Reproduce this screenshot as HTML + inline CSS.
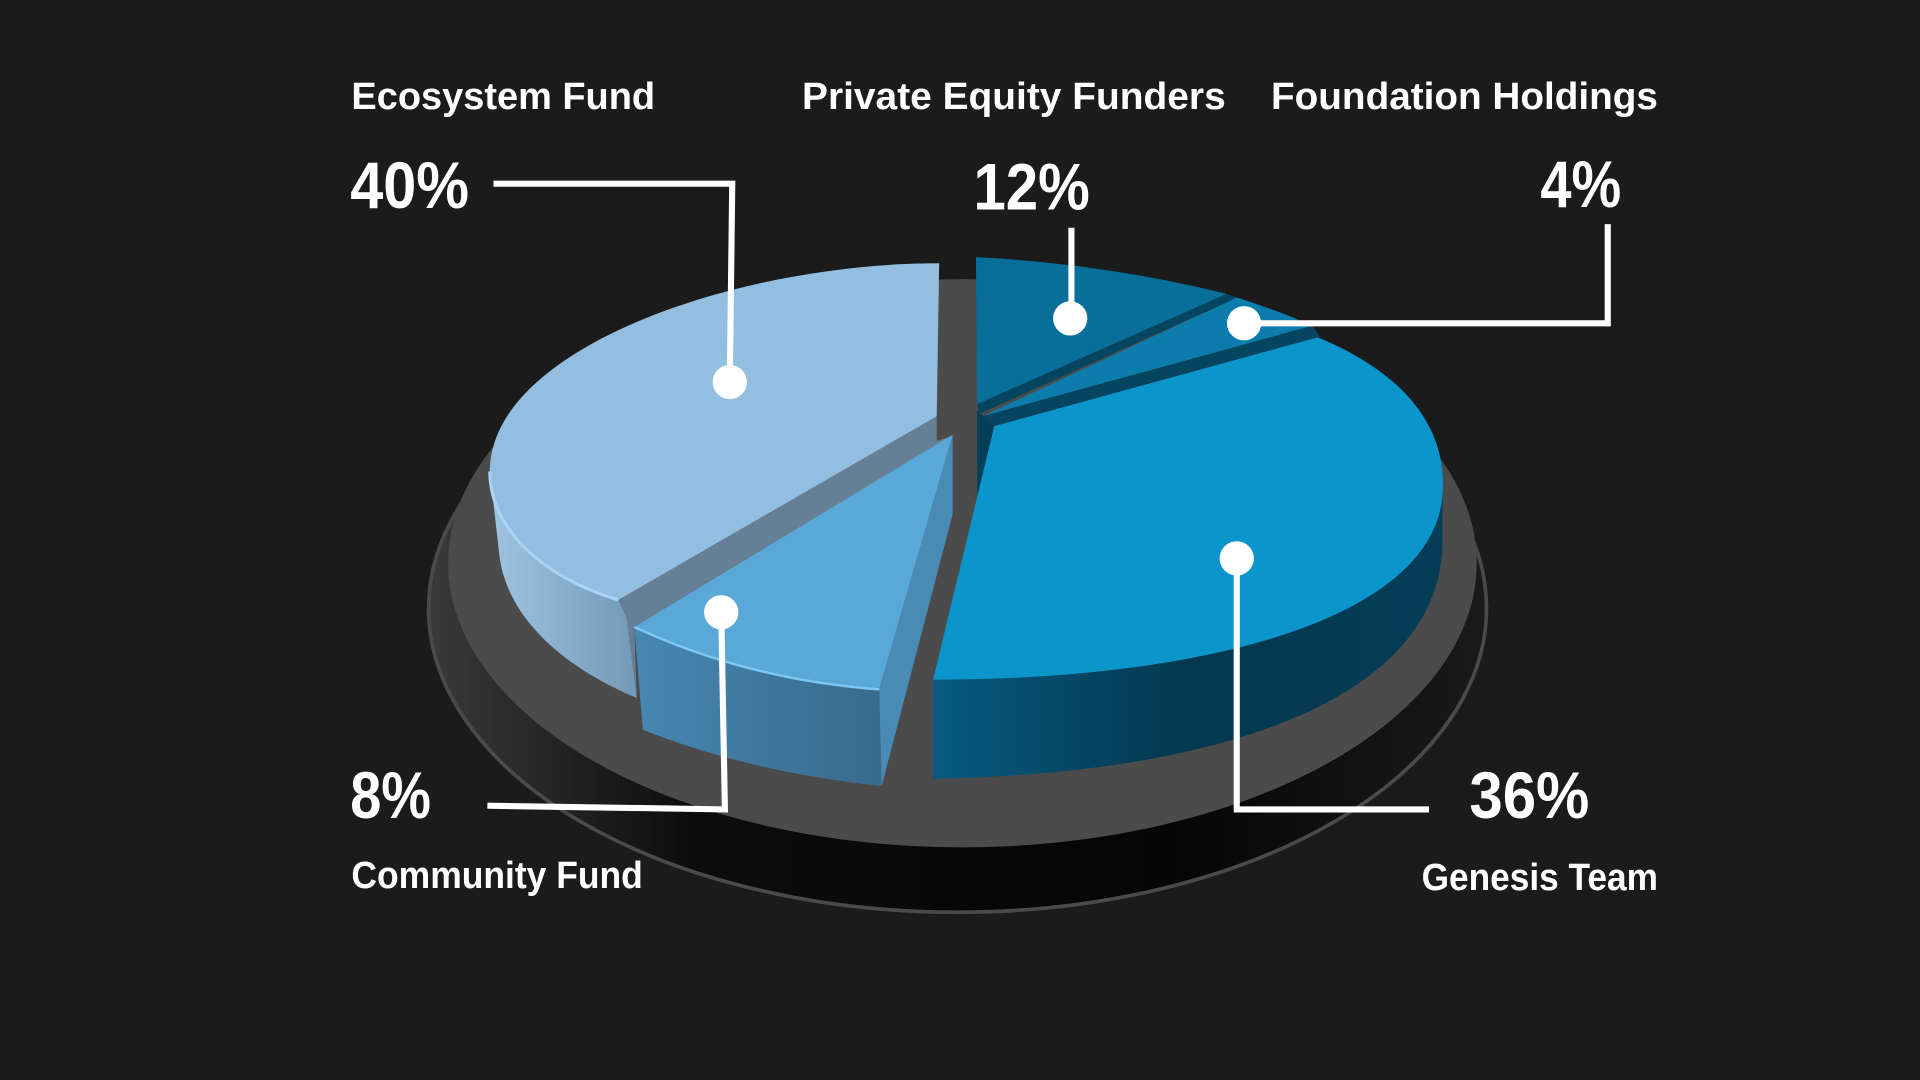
<!DOCTYPE html>
<html><head><meta charset="utf-8"><style>
html,body{margin:0;padding:0;background:#1b1b1b;width:1920px;height:1080px;overflow:hidden}
svg{display:block}
text{font-family:"Liberation Sans",sans-serif;font-weight:bold;fill:#fff}
</style></head><body>
<svg width="1920" height="1080" viewBox="0 0 1568 882" preserveAspectRatio="none">
<defs>
<linearGradient id="plat" x1="0" x2="1" y1="0" y2="0">
<stop offset="0" stop-color="#3a3a3a"/><stop offset="0.25" stop-color="#0c0c0c"/><stop offset="0.7" stop-color="#050505"/><stop offset="1" stop-color="#1a1a1a"/></linearGradient>
<linearGradient id="eco" x1="0" x2="1"><stop offset="0" stop-color="#a0c4e0"/><stop offset="1" stop-color="#7399b8"/></linearGradient>
<linearGradient id="com" x1="0" x2="1"><stop offset="0" stop-color="#4687b2"/><stop offset="1" stop-color="#386a8c"/></linearGradient>
<linearGradient id="gen" x1="0" x2="1"><stop offset="0" stop-color="#075a80"/><stop offset="0.5" stop-color="#04384f"/><stop offset="1" stop-color="#063c56"/></linearGradient>
</defs>
<rect width="1568" height="882" fill="#1b1b1b"/>
<!-- platform -->
<ellipse cx="782" cy="497" rx="432" ry="248" fill="url(#plat)" stroke="#4a4a4a" stroke-width="3"/>
<ellipse cx="786" cy="460" rx="420" ry="232" fill="#4b4b4b"/>
<!-- ecosystem -->
<path d="M400,385 C400,430 440,470 505,490 L512,505 L520,570 C460,545 415,505 408,455 Z" fill="url(#eco)"/>
<path d="M767,215 C600,215 400,285 400,385 C400,430 440,470 505,490 L765,340 Z" fill="#93bedf"/>
<path d="M765,340 L505,490 L512,505 L520,570 L518,512 L778,356 L765,360 Z" fill="#657f97"/>
<path d="M400,385 C400,430 440,470 505,490" fill="none" stroke="#a9d4f5" stroke-width="2.5"/>
<!-- community -->
<path d="M518,512 Q610,555 718,563 L720,642 Q610,630 525,596 Z" fill="url(#com)"/>
<path d="M778,355 L518,512 Q610,555 718,563 Z" fill="#5aa8d7"/>
<path d="M518,512 Q610,555 718,563" fill="none" stroke="#7cc8f2" stroke-width="2"/>
<path d="M778,355 L718,563 L720,642 L778,420 Z" fill="#4a8bb5"/>
<!-- genesis side -->
<path d="M762,555 C1000,555 1170,500 1178,400 L1178,445 C1175,570 1000,632 762,636 Z" fill="url(#gen)"/>
<path d="M798,335 L812,348 L800,420 L798,420 Z" fill="#043e57"/>
<path d="M812,348 L1075,275 C1160,310 1182,360 1178,405 C1170,500 1000,555 762,555 Z" fill="#0c95cb"/>
<!-- private equity & foundation -->
<path d="M797,210 Q900,215 1002,240 L798,330 Z" fill="#086e9a"/>
<path d="M1002,240 L1010,243 L800,338 L798,330 Z" fill="#054560"/>
<path d="M1010,243 Q1045,254 1072,266 L802,340 Z" fill="#0b7cab"/>
<path d="M1072,266 L1078,275 L812,348 L802,340 Z" fill="#054560"/>
<!-- leader lines -->
<g stroke="#fff" stroke-width="5" fill="none">
<path d="M403,150 L598,150 L596,312"/>
<path d="M875,186 L875,260"/>
<path d="M1313,183 L1313,264 L1016,264"/>
<path d="M398,658 L592,661 L589,500"/>
<path d="M1167,661 L1010,661 L1010,456"/>
</g>
<g fill="#fff">
<circle cx="596" cy="312" r="14"/><circle cx="874" cy="260" r="14"/><circle cx="1016" cy="264" r="14"/>
<circle cx="589" cy="500" r="14"/><circle cx="1010" cy="456" r="14"/>
</g>
<!-- labels -->
<text x="287" y="89" font-size="31" textLength="248" lengthAdjust="spacingAndGlyphs">Ecosystem Fund</text>
<text x="655" y="89" font-size="31" textLength="346" lengthAdjust="spacingAndGlyphs">Private Equity Funders</text>
<text x="1038" y="89" font-size="31" textLength="316" lengthAdjust="spacingAndGlyphs">Foundation Holdings</text>
<text x="286" y="170" font-size="54" textLength="97" lengthAdjust="spacingAndGlyphs">40%</text>
<text x="795" y="171" font-size="54" textLength="95" lengthAdjust="spacingAndGlyphs">12%</text>
<text x="1258" y="169" font-size="54" textLength="66" lengthAdjust="spacingAndGlyphs">4%</text>
<text x="286" y="668" font-size="54" textLength="66" lengthAdjust="spacingAndGlyphs">8%</text>
<text x="1200" y="668" font-size="54" textLength="98" lengthAdjust="spacingAndGlyphs">36%</text>
<text x="287" y="725" font-size="31" textLength="238" lengthAdjust="spacingAndGlyphs">Community Fund</text>
<text x="1161" y="727" font-size="31" textLength="193" lengthAdjust="spacingAndGlyphs">Genesis Team</text>
</svg>
</body></html>
